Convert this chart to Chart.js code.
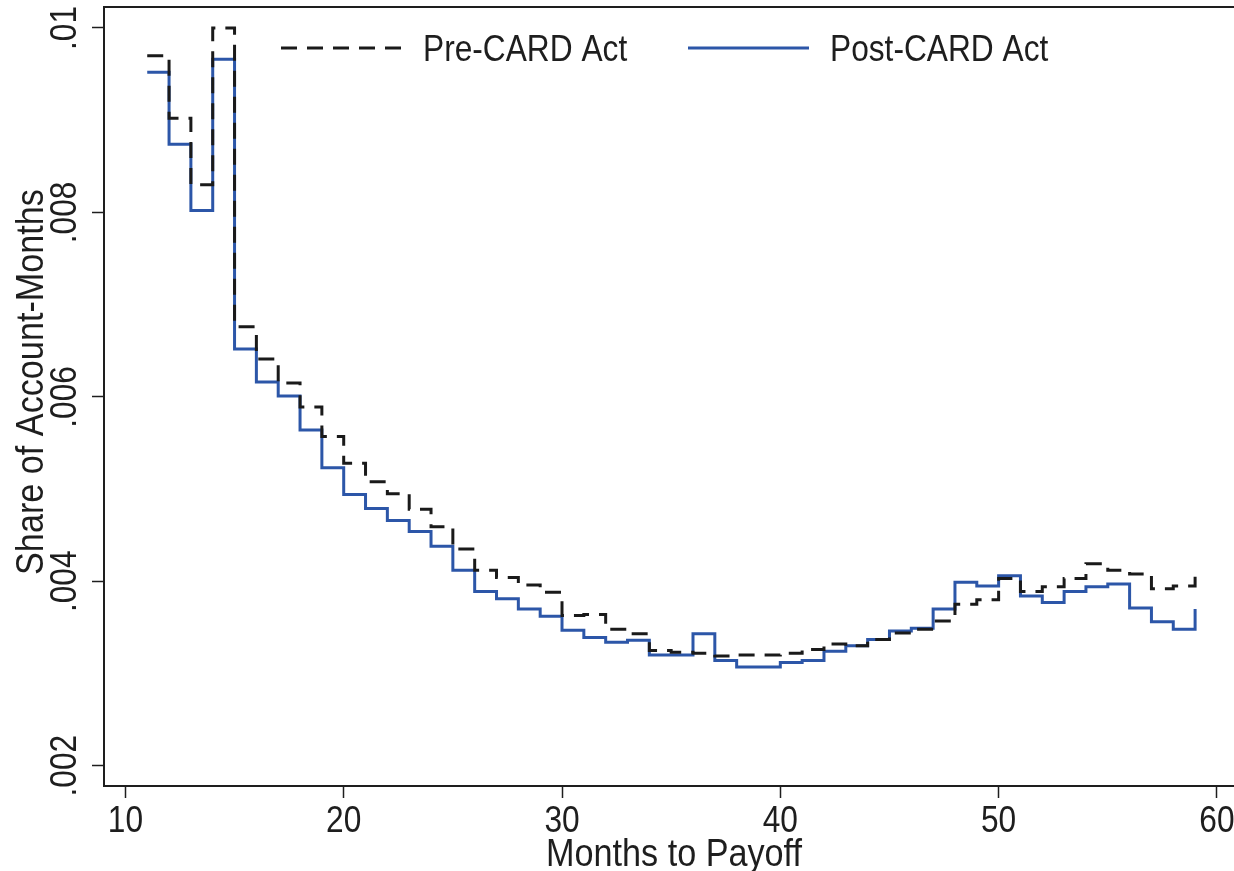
<!DOCTYPE html>
<html>
<head>
<meta charset="utf-8">
<title>Months to Payoff</title>
<script src="https://cdn.jsdelivr.net/npm/chart.js@4.4.1/dist/chart.umd.min.js"></script>
<style>
  html, body { margin: 0; padding: 0; background: #fff; overflow: hidden; }
  #chart { display: block; }
</style>
</head>
<body>
<canvas id="chart" width="1250" height="871"></canvas>
<script>
// months to payoff (x) and the share of account-months for each period
const months = [11, 12, 13, 14, 15, 16, 17, 18, 19, 20,
  21, 22, 23, 24, 25, 26, 27, 28, 29, 30,
  31, 32, 33, 34, 35, 36, 37, 38, 39, 40,
  41, 42, 43, 44, 45, 46, 47, 48, 49, 50,
  51, 52, 53, 54, 55, 56, 57, 58, 59]

const preCard = [0.00970, 0.00902, 0.00830, 0.01000, 0.00676, 0.00641, 0.00615, 0.00589, 0.00557, 0.00528,
  0.00508, 0.00495, 0.00478, 0.00459, 0.00435, 0.00412, 0.00404, 0.00396, 0.00388, 0.00363,
  0.00364, 0.00348, 0.00343, 0.00325, 0.00323, 0.00322, 0.00319, 0.00320, 0.00320, 0.00322,
  0.00326, 0.00332, 0.00330, 0.00337, 0.00344, 0.00348, 0.00357, 0.00375, 0.00380, 0.00403,
  0.00389, 0.00394, 0.00403, 0.00419, 0.00412, 0.00408, 0.00392, 0.00395, 0.00410]

const postCard = [0.00952, 0.00874, 0.00802, 0.00966, 0.00652, 0.00616, 0.00601, 0.00564, 0.00523, 0.00494,
  0.00479, 0.00466, 0.00454, 0.00438, 0.00412, 0.00389, 0.00381, 0.00370, 0.00362, 0.00347,
  0.00339, 0.00334, 0.00336, 0.00320, 0.00320, 0.00343, 0.00314, 0.00307, 0.00307, 0.00312,
  0.00314, 0.00324, 0.00330, 0.00337, 0.00346, 0.00349, 0.00370, 0.00399, 0.00395, 0.00406,
  0.00384, 0.00377, 0.00389, 0.00394, 0.00397, 0.00371, 0.00356, 0.00348, 0.00370]

const seriesNames = ['Pre-CARD Act', 'Post-CARD Act']
const xTicks = [10, 20, 30, 40, 50, 60]
const yTicks = [0.002, 0.004, 0.006, 0.008, 0.01]
const yTickLabels = ['.002', '.004', '.006', '.008', '.01']
const xTitle = 'Months to Payoff'
const yTitle = 'Share of Account-Months'

const INK = '#1e1e1e'
const FONT = "'Liberation Sans Narrow', 'Arial Narrow', 'Liberation Sans', Arial, sans-serif"

// text with a narrow look, optional -90 deg turn
function txt(c, s, x, y, align, turn, squeeze) {
  c.save()
  c.translate(x, y)
  if (turn) c.rotate(-Math.PI / 2)
  c.scale(squeeze, 1)
  c.textAlign = align
  c.fillText(s, 0, 0)
  c.restore()
}

// frame, tick labels, titles and legend, Stata style
const stataPlugin = {
  id: 'stata',
  afterDraw(chart) {
    const { ctx: c, chartArea: a, scales: { x, y } } = chart
    c.save()
    c.strokeStyle = INK
    c.lineWidth = 2
    c.setLineDash([])
    c.strokeRect(a.left, a.top, a.right - a.left, a.bottom - a.top)

    c.fillStyle = INK
    c.textBaseline = 'alphabetic'
    c.font = '36px ' + FONT
    yTicks.forEach((v, i) => txt(c, yTickLabels[i], 76, y.getPixelForValue(v), 'center', true, 0.88))
    xTicks.forEach(v => txt(c, String(v), x.getPixelForValue(v), 832, 'center', false, 0.88))

    // legend
    const keyX = [281, 688]
    chart.data.datasets.forEach((ds, i) => {
      c.beginPath()
      c.strokeStyle = ds.borderColor
      c.lineWidth = ds.borderWidth
      c.setLineDash(ds.borderDash || [])
      c.moveTo(keyX[i], 48)
      c.lineTo(keyX[i] + 121, 48)
      c.stroke()
      c.setLineDash([])
      txt(c, ds.label, keyX[i] + 142, 61, 'left', false, 0.88)
    })

    c.font = '38px ' + FONT
    txt(c, yTitle, 43, 382, 'center', true, 0.9)
    txt(c, xTitle, (a.left + a.right) / 2, 866, 'center', false, 0.9)
    c.restore()
  }
}

const ctx = document.getElementById('chart').getContext('2d')
new Chart(ctx, {
  type: 'line',
  plugins: [stataPlugin],
  data: {
    datasets: [
      {
        label: seriesNames[0],
        data: months.map((m, i) => ({ x: m, y: preCard[i] })),
        borderColor: '#1a1a1a',
        borderWidth: 3,
        borderDash: [16, 10],
        stepped: true,
        pointRadius: 0,
        fill: false
      },
      {
        label: seriesNames[1],
        data: months.map((m, i) => ({ x: m, y: postCard[i] })),
        borderColor: '#2c56a8',
        borderWidth: 3,
        stepped: true,
        pointRadius: 0,
        fill: false
      }
    ]
  },
  options: {
    responsive: false,
    animation: false,
    devicePixelRatio: 1,
    layout: { padding: { top: 7, right: 6, left: 0, bottom: 0 } },
    plugins: { legend: { display: false }, tooltip: { enabled: false } },
    scales: {
      x: {
        type: 'linear',
        min: 9.02,
        max: 61.24,
        afterBuildTicks: s => { s.ticks = xTicks.map(v => ({ value: v })) },
        afterFit: s => { s.height = 85 },
        border: { display: false },
        grid: { drawOnChartArea: false, drawTicks: true, tickLength: 12, tickWidth: 1.5, tickColor: INK },
        ticks: { display: false }
      },
      y: {
        type: 'linear',
        min: 0.00178,
        max: 0.0102276,
        afterBuildTicks: s => { s.ticks = yTicks.map(v => ({ value: v })) },
        afterFit: s => { s.width = 104 },
        border: { display: false },
        grid: { drawOnChartArea: false, drawTicks: true, tickLength: 12, tickWidth: 1.5, tickColor: INK },
        ticks: { display: false }
      }
    }
  }
})
</script>
</body>
</html>
